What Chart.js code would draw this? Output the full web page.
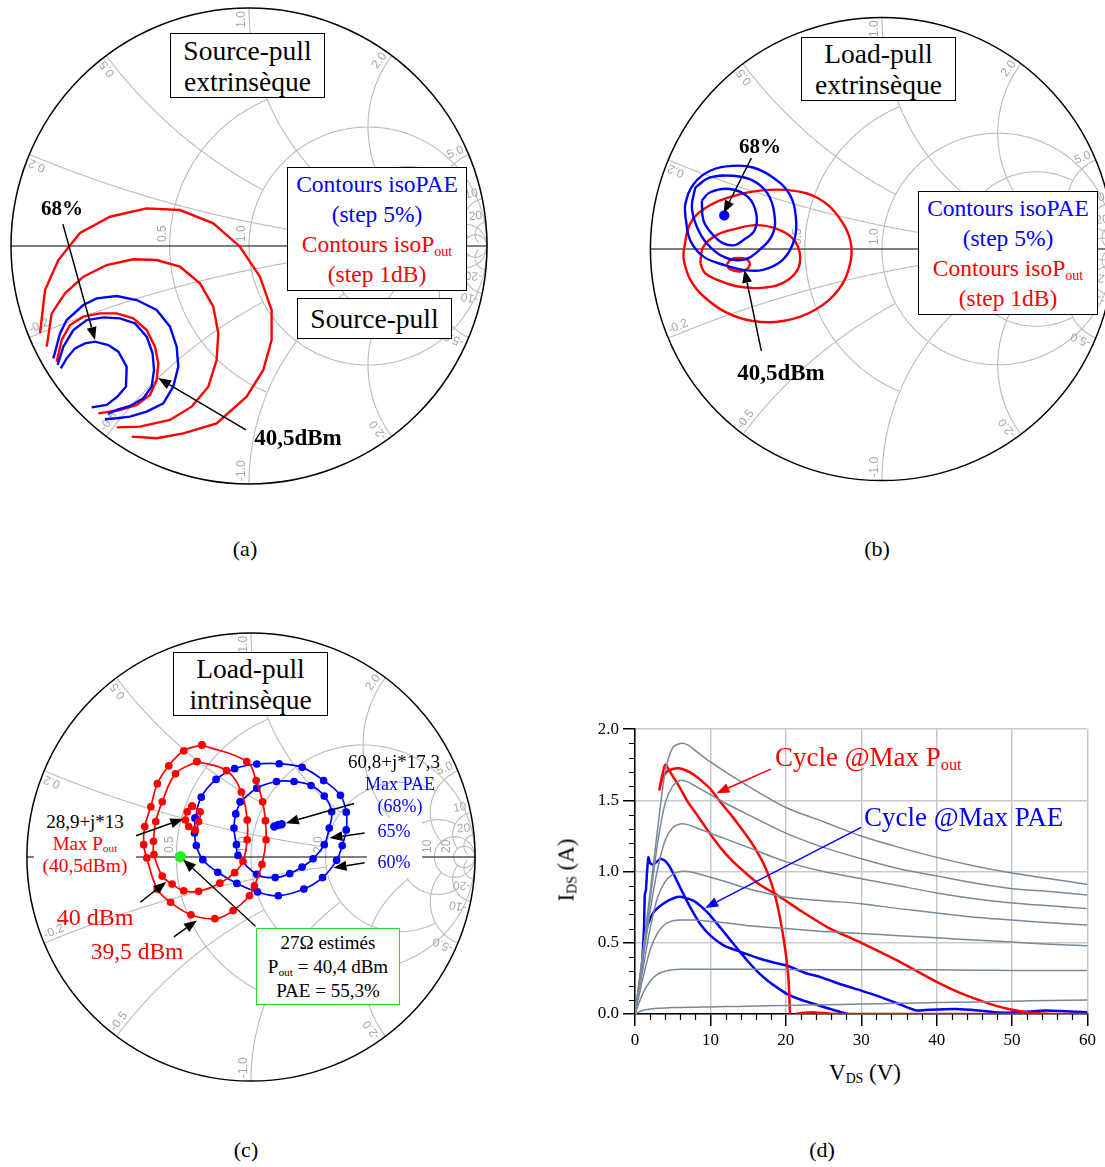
<!DOCTYPE html>
<html>
<head>
<meta charset="utf-8">
<title>Source-pull / Load-pull</title>
<script src="https://cdn.jsdelivr.net/npm/chart.js@4.4.1/dist/chart.umd.min.js"></script>
<style>
  body { margin: 0; width: 1105px; height: 1167px; position: relative; overflow: hidden; background: #fff;
         font-family: "Liberation Serif", "Times New Roman", serif; color: #000; }
  canvas { position: absolute; }
  .t { position: absolute; white-space: nowrap; line-height: 1; transform: translate(-50%, -50%); }
  .tl { position: absolute; white-space: nowrap; line-height: 1; transform: translateY(-50%); }
  .box { position: absolute; box-sizing: border-box; border: 1.5px solid #000; background: #fff; text-align: center;
         white-space: nowrap; display: flex; flex-direction: column; justify-content: center; }
  .blue { color: #0000ff; }
  .red { color: #ff0000; }
  .b { font-weight: bold; }
  sub { font-size: 0.6em; vertical-align: -0.25em; line-height: 0; }
  .patch { position: absolute; background: #fff; }
</style>
</head>
<body>
<canvas id="smithA" width="484" height="484" style="left:7px;top:4px"></canvas>
<canvas id="smithB" width="476" height="476" style="left:644px;top:11px"></canvas>
<canvas id="smithC" width="462" height="462" style="left:20px;top:626px"></canvas>
<canvas id="ivChart" width="520" height="331" style="left:580px;top:715px"></canvas>

<!-- (a) source-pull extrinseque -->
<div class="box" style="left:170px;top:33px;width:155px;height:65px;font-size:27.5px;line-height:31px">
  <div>Source-pull</div><div>extrinsèque</div>
</div>
<div class="box" style="left:287px;top:167px;width:180px;height:124px;font-size:23.5px;line-height:30px">
  <div class="blue">Contours isoPAE</div><div class="blue">(step 5%)</div>
  <div class="red">Contours isoP<sub>out</sub></div><div class="red">(step 1dB)</div>
</div>
<div class="box" style="left:297px;top:298px;width:155px;height:41px;font-size:27.5px">Source-pull</div>
<div class="t b" style="left:62px;top:208px;font-size:21px">68%</div>
<div class="t b" style="left:298px;top:437px;font-size:23px">40,5dBm</div>

<!-- (b) load-pull extrinseque -->
<div class="box" style="left:801px;top:37px;width:155px;height:64px;font-size:27.5px;line-height:31px">
  <div>Load-pull</div><div>extrinsèque</div>
</div>
<div class="box" style="left:918px;top:191px;width:180px;height:124px;font-size:23.5px;line-height:30px">
  <div class="blue">Contours isoPAE</div><div class="blue">(step 5%)</div>
  <div class="red">Contours isoP<sub>out</sub></div><div class="red">(step 1dB)</div>
</div>
<div class="t b" style="left:760px;top:146px;font-size:21px">68%</div>
<div class="t b" style="left:781px;top:372px;font-size:23px">40,5dBm</div>

<!-- (c) load-pull intrinseque -->
<div class="patch" style="left:34px;top:808px;width:102px;height:70px"></div>
<div class="patch" style="left:367px;top:818px;width:55px;height:60px"></div>
<div class="box" style="left:173px;top:652px;width:155px;height:64px;font-size:27.5px;line-height:31px">
  <div>Load-pull</div><div>intrinsèque</div>
</div>
<div class="t" style="left:394px;top:761px;font-size:19px">60,8+j*17,3</div>
<div class="t blue" style="left:400px;top:784px;font-size:18px">Max PAE</div>
<div class="t blue" style="left:400px;top:806px;font-size:18px">(68%)</div>
<div class="t blue" style="left:394px;top:831px;font-size:18px">65%</div>
<div class="t blue" style="left:394px;top:862px;font-size:18px">60%</div>
<div class="t" style="left:85px;top:821px;font-size:19px">28,9+j*13</div>
<div class="t red" style="left:85px;top:843px;font-size:19px">Max P<sub>out</sub></div>
<div class="t red" style="left:85px;top:866px;font-size:19.5px">(40,5dBm)</div>
<div class="t red" style="left:95px;top:917px;font-size:24px">40 dBm</div>
<div class="t red" style="left:137px;top:952px;font-size:23.5px">39,5 dBm</div>
<div class="box" style="left:256px;top:928px;width:144px;height:77px;border-color:#22dd22;font-size:19px;line-height:24px">
  <div>27Ω estimés</div><div>P<sub>out</sub> = 40,4 dBm</div><div>PAE = 55,3%</div>
</div>

<!-- (d) IV -->
<div class="tl red" style="left:775px;top:757px;font-size:27px">Cycle @Max P<sub>out</sub></div>
<div class="tl blue" style="left:864px;top:817px;font-size:27px">Cycle @Max PAE</div>
<div class="t" style="left:566px;top:870px;font-size:23px;transform:translate(-50%,-50%) rotate(-90deg)">I<sub>DS</sub> (A)</div>
<div class="t" style="left:865px;top:1072px;font-size:23px">V<sub>DS</sub> (V)</div>

<div class="t" style="left:245px;top:549px;font-size:22px">(a)</div>
<div class="t" style="left:877px;top:549px;font-size:22px">(b)</div>
<div class="t" style="left:246px;top:1150px;font-size:22px">(c)</div>
<div class="t" style="left:822px;top:1150px;font-size:22px">(d)</div>

<script>
// ---- (a) source-pull extrinseque, reflection coefficient [re, im]
const srcPout385 = [[-0.878,-0.366],[-0.857,-0.185],[-0.801,-0.059],[-0.710,0.055],[-0.584,0.123],[-0.430,0.158],[-0.290,0.151],[-0.150,0.095],[-0.038,-0.003],[0.046,-0.129],[0.095,-0.269],[0.095,-0.395],[0.060,-0.521],[-0.010,-0.633],[-0.136,-0.745],[-0.276,-0.787],[-0.388,-0.808],[-0.493,-0.801]];
const srcPout395 = [[-0.850,-0.423],[-0.829,-0.283],[-0.773,-0.199],[-0.696,-0.129],[-0.598,-0.080],[-0.486,-0.056],[-0.388,-0.059],[-0.290,-0.087],[-0.206,-0.157],[-0.150,-0.255],[-0.129,-0.367],[-0.136,-0.479],[-0.171,-0.591],[-0.241,-0.675],[-0.332,-0.731],[-0.458,-0.759],[-0.556,-0.762]];
const srcPout405 = [[-0.808,-0.486],[-0.787,-0.395],[-0.752,-0.332],[-0.696,-0.297],[-0.626,-0.283],[-0.556,-0.283],[-0.486,-0.304],[-0.430,-0.353],[-0.395,-0.423],[-0.381,-0.493],[-0.388,-0.563],[-0.416,-0.626],[-0.472,-0.668],[-0.542,-0.689],[-0.633,-0.703]];
const srcPae58 = [[-0.822,-0.472],[-0.794,-0.367],[-0.766,-0.311],[-0.696,-0.248],[-0.640,-0.220],[-0.556,-0.210],[-0.472,-0.227],[-0.388,-0.269],[-0.332,-0.339],[-0.304,-0.423],[-0.297,-0.507],[-0.318,-0.591],[-0.360,-0.661],[-0.430,-0.696],[-0.500,-0.717],[-0.556,-0.724],[-0.605,-0.728]];
const srcPae63 = [[-0.804,-0.500],[-0.780,-0.423],[-0.738,-0.353],[-0.682,-0.311],[-0.612,-0.300],[-0.542,-0.304],[-0.479,-0.325],[-0.430,-0.381],[-0.405,-0.451],[-0.399,-0.521],[-0.409,-0.591],[-0.444,-0.640],[-0.500,-0.672],[-0.556,-0.689],[-0.592,-0.706]];
const srcPae68 = [[-0.791,-0.514],[-0.766,-0.472],[-0.731,-0.430],[-0.689,-0.409],[-0.647,-0.402],[-0.591,-0.416],[-0.549,-0.444],[-0.514,-0.507],[-0.517,-0.591],[-0.553,-0.633],[-0.598,-0.668],[-0.661,-0.678]];

// ---- (b) load-pull extrinseque
const loadPout385 = [[-0.856,-0.004],[-0.828,0.110],[-0.756,0.181],[-0.657,0.224],[-0.529,0.252],[-0.386,0.252],[-0.272,0.217],[-0.187,0.138],[-0.137,0.038],[-0.137,-0.061],[-0.187,-0.175],[-0.286,-0.261],[-0.429,-0.311],[-0.557,-0.311],[-0.671,-0.275],[-0.771,-0.204],[-0.828,-0.132],[-0.856,-0.047]];
const loadPout395 = [[-0.785,-0.061],[-0.771,0.010],[-0.714,0.060],[-0.628,0.088],[-0.543,0.103],[-0.457,0.088],[-0.386,0.046],[-0.355,-0.018],[-0.365,-0.090],[-0.429,-0.147],[-0.529,-0.168],[-0.628,-0.161],[-0.714,-0.132],[-0.764,-0.104]];
const loadPout405 = [[-0.671,-0.068],[-0.650,-0.044],[-0.600,-0.040],[-0.574,-0.054],[-0.578,-0.082],[-0.614,-0.097],[-0.657,-0.087]];
const loadPae58 = [[-0.849,0.138],[-0.828,0.038],[-0.771,-0.033],[-0.685,-0.068],[-0.600,-0.090],[-0.514,-0.090],[-0.429,-0.047],[-0.379,0.038],[-0.372,0.138],[-0.400,0.238],[-0.471,0.309],[-0.557,0.352],[-0.642,0.359],[-0.742,0.338],[-0.813,0.281],[-0.849,0.195]];
const loadPae63 = [[-0.806,0.266],[-0.742,0.309],[-0.642,0.316],[-0.557,0.295],[-0.493,0.238],[-0.465,0.153],[-0.471,0.067],[-0.529,-0.004],[-0.600,-0.047],[-0.685,-0.033],[-0.756,0.024],[-0.799,0.095],[-0.821,0.181]];
const loadPae68 = [[-0.778,0.209],[-0.742,0.245],[-0.657,0.259],[-0.578,0.224],[-0.543,0.153],[-0.550,0.081],[-0.600,0.038],[-0.635,0.017],[-0.685,0.024],[-0.735,0.067],[-0.771,0.124]];
const loadPaeMax = [[-0.681,0.145]];

// ---- (c) load-pull intrinseque
const intPout395 = [[-0.219,0.500],[-0.019,0.426],[0.023,0.341],[0.052,0.246],[0.064,0.162],[0.067,0.077],[0.049,-0.033],[0.015,-0.129],[-0.007,-0.173],[-0.080,-0.239],[-0.161,-0.275],[-0.268,-0.258],[-0.359,-0.202],[-0.418,-0.143],[-0.465,-0.004],[-0.479,0.055],[-0.474,0.136],[-0.447,0.224],[-0.418,0.327],[-0.367,0.407],[-0.300,0.474]];
const intPout40 = [[-0.241,0.426],[-0.109,0.385],[-0.043,0.290],[-0.017,0.165],[-0.017,0.077],[-0.036,-0.019],[-0.073,-0.070],[-0.139,-0.117],[-0.234,-0.153],[-0.300,-0.151],[-0.352,-0.121],[-0.396,-0.085],[-0.433,0.011],[-0.435,0.070],[-0.425,0.158],[-0.396,0.246],[-0.337,0.371]];
const intPoutMax = [[-0.263,0.227],[-0.227,0.202],[-0.234,0.158],[-0.249,0.121],[-0.278,0.136],[-0.293,0.165],[-0.285,0.202]];
const intPae60 = [[-0.249,0.174],[-0.222,0.267],[-0.156,0.346],[-0.073,0.394],[0.026,0.415],[0.126,0.416],[0.228,0.400],[0.324,0.341],[0.399,0.275],[0.425,0.200],[0.425,0.121],[0.407,0.051],[0.382,-0.015],[0.319,-0.092],[0.236,-0.143],[0.122,-0.173],[0.029,-0.156],[-0.063,-0.118],[-0.148,-0.068],[-0.215,-0.012],[-0.244,0.051],[-0.252,0.107]];
const intPae65 = [[-0.048,0.246],[0.026,0.307],[0.114,0.337],[0.192,0.337],[0.268,0.319],[0.327,0.272],[0.360,0.202],[0.349,0.129],[0.327,0.055],[0.277,-0.008],[0.228,-0.045],[0.173,-0.074],[0.108,-0.092],[0.026,-0.077],[-0.058,0.007],[-0.065,0.055],[-0.076,0.129],[-0.068,0.192]];
const intPaeMax = [[0.104,0.136],[0.122,0.143],[0.137,0.146]];
const intEstimate = [[-0.315,0.001]];

// ---- (d) IV network and load cycles
const vdsSweep = [0, 1, 2, 3, 4, 5, 6, 7, 8, 10, 12, 15, 20, 25, 30, 35, 40, 45, 50, 55, 60];
const idsCurve1 = [0, 0.42, 0.85, 1.30, 1.70, 1.87, 1.90, 1.89, 1.85, 1.77, 1.70, 1.60, 1.45, 1.35, 1.25, 1.17, 1.10, 1.04, 0.99, 0.95, 0.91];
const idsCurve2 = [0, 0.40, 0.80, 1.20, 1.48, 1.60, 1.64, 1.63, 1.60, 1.54, 1.48, 1.40, 1.27, 1.17, 1.09, 1.02, 0.97, 0.92, 0.88, 0.86, 0.835];
const idsCurve3 = [0, 0.36, 0.72, 1.02, 1.22, 1.31, 1.335, 1.33, 1.31, 1.27, 1.23, 1.17, 1.07, 1.00, 0.95, 0.90, 0.85, 0.81, 0.78, 0.76, 0.74];
const idsCurve4 = [0, 0.30, 0.60, 0.82, 0.93, 0.98, 1.00, 1.00, 0.99, 0.96, 0.93, 0.88, 0.82, 0.795, 0.775, 0.74, 0.71, 0.68, 0.66, 0.64, 0.625];
const idsCurve5 = [0, 0.24, 0.45, 0.57, 0.63, 0.655, 0.66, 0.66, 0.66, 0.65, 0.64, 0.62, 0.60, 0.58, 0.565, 0.55, 0.535, 0.52, 0.505, 0.49, 0.48];
const idsCurve6 = [0, 0.14, 0.23, 0.28, 0.30, 0.31, 0.315, 0.315, 0.315, 0.315, 0.315, 0.315, 0.312, 0.31, 0.31, 0.31, 0.31, 0.308, 0.306, 0.305, 0.305];
const idsCurve7 = [0, 0.025, 0.035, 0.04, 0.043, 0.045, 0.046, 0.047, 0.048, 0.05, 0.052, 0.055, 0.06, 0.065, 0.07, 0.075, 0.08, 0.085, 0.09, 0.095, 0.098];
const poutCycleV = [60, 57, 54, 52, 50, 48, 46, 43, 40, 35, 30, 25.6, 22, 20, 18.4, 16.5, 14.9, 13, 11.3, 9.5, 8.2, 7, 6, 5, 4.0, 3.24, 3.6, 4.2, 5.0, 5.8, 6.8, 7.8, 9, 10, 11.3, 12.7, 14, 15.3, 16.3, 17.1, 17.8, 18.4, 18.9, 19.3, 19.7, 20.0, 20.3, 20.45, 20.55, 20.9, 21.2, 22.5, 23.5, 24.5, 26, 30, 40, 50, 60];
const poutCycleI = [0, 0, 0.004, 0.012, 0.03, 0.055, 0.09, 0.15, 0.225, 0.37, 0.50, 0.607, 0.724, 0.795, 0.85, 0.91, 0.98, 1.07, 1.17, 1.30, 1.40, 1.49, 1.585, 1.67, 1.75, 1.577, 1.65, 1.70, 1.72, 1.725, 1.71, 1.68, 1.63, 1.58, 1.49, 1.40, 1.31, 1.215, 1.13, 1.05, 0.96, 0.865, 0.76, 0.654, 0.53, 0.42, 0.28, 0.15, 0, null, 0, 0.008, 0.012, 0.008, 0.002, 0, 0, 0, 0];
const paeCycleV = [60, 57, 54.5, 51, 48.3, 45.5, 42.5, 39, 37.3, 35, 32.5, 30, 27.5, 24.7, 22.5, 20.2, 18.5, 16.7, 13.8, 11.8, 10, 8.67, 7.33, 6.44, 5.56, 4.67, 4.0, 3.4, 2.9, 2.4, 2.0, 1.78, 1.6, 1.45, 1.3, 1.2, 1.05, 0.9, 1.1, 1.56, 2.44, 3.78, 5.1, 6.2, 7.8, 9.6, 11.3, 13.1, 14.9, 16.2, 17.6, 19, 20.2, 22, 23.8, 26, 28.2];
const paeCycleI = [0.013, 0.02, 0.025, 0.012, 0.01, 0.025, 0.035, 0.03, 0.025, 0.07, 0.12, 0.164, 0.205, 0.257, 0.29, 0.339, 0.36, 0.386, 0.44, 0.48, 0.55, 0.63, 0.748, 0.84, 0.935, 1.028, 1.075, 1.09, 1.07, 1.05, 1.06, 1.10, 1.0, 0.87, 0.84, 0.607, 0.45, 0.32, 0.467, 0.607, 0.713, 0.776, 0.813, 0.822, 0.794, 0.713, 0.607, 0.49, 0.374, 0.30, 0.234, 0.18, 0.14, 0.10, 0.07, 0.033, 0];

Chart.defaults.font.family = '"Liberation Serif", serif';

// z = r + jx  ->  reflection coefficient
function gam(r, x) {
  const d = (r + 1) * (r + 1) + x * x;
  return [(r * r - 1 + x * x) / d, 2 * x / d];
}
function fmt(v) {
  return Math.abs(v) >= 10 ? String(v) : v.toFixed(1);
}

// grid lines: resistance circles [r, xFrom, xTo], reactance arcs [x, rTo]
const rCircles = [[0.5, -1, 1], [1, -Infinity, Infinity], [2, -5, 5], [5, -10, 10], [10, -Infinity, Infinity], [20, -Infinity, Infinity]];
const xArcs = [[0.2, 2], [0.5, 1], [1, 2], [2, 5], [5, 10], [10, 20], [20, 50]];
const gridLabels = [0.2, 0.5, 1, 2, 5, 10, 20];

const smithGrid = {
  id: 'smithGrid',
  beforeDatasetsDraw(chart) {
    const { ctx, scales: { x, y } } = chart;
    const px = g => [x.getPixelForValue(g[0]), y.getPixelForValue(g[1])];
    const cx = x.getPixelForValue(0), cy = y.getPixelForValue(0);
    const R = x.getPixelForValue(1) - cx;
    ctx.save();
    ctx.strokeStyle = '#bbbbbb';
    ctx.lineWidth = 1.1;
    const trace = (fn, a, b) => {
      const t0 = Math.atan(a), t1 = Math.atan(b);
      ctx.beginPath();
      for (let i = 0; i <= 240; i++) {
        const p = px(fn(Math.tan(t0 + (t1 - t0) * i / 240)));
        if (i) ctx.lineTo(p[0], p[1]); else ctx.moveTo(p[0], p[1]);
      }
      ctx.stroke();
    };
    rCircles.forEach(([r, a, b]) => trace(v => gam(r, v), a, b));
    xArcs.forEach(([xv, rb]) => {
      trace(v => gam(v, xv), 0, rb);
      trace(v => gam(v, -xv), 0, rb);
    });

    ctx.fillStyle = '#a6a6a6';
    ctx.font = '12px "Liberation Sans"';
    ctx.textBaseline = 'bottom';
    gridLabels.forEach(v => {
      [v, -v].forEach(xv => {
        const g = gam(0, xv);
        const th = Math.atan2(g[1], g[0]);
        ctx.save();
        ctx.translate(cx + (R - 3) * Math.cos(th), cy - (R - 3) * Math.sin(th));
        if (xv > 0) { ctx.rotate(-th); ctx.textAlign = 'right'; }
        else { ctx.rotate(-(th + Math.PI)); ctx.textAlign = 'left'; }
        ctx.fillText(fmt(xv), 0, -1);
        ctx.restore();
      });
      if (v >= 0.5) {
        const p = px([(v - 1) / (v + 1), 0]);
        ctx.save();
        ctx.translate(p[0] - 1, p[1] - 4);
        ctx.rotate(-Math.PI / 2);
        ctx.textAlign = 'left';
        ctx.fillText(fmt(v), 0, 0);
        ctx.restore();
      }
    });

    ctx.strokeStyle = '#000';
    ctx.lineWidth = 1.5;
    ctx.beginPath();
    ctx.arc(cx, cy, R, 0, 2 * Math.PI);
    ctx.stroke();
    ctx.lineWidth = 1.2;
    ctx.beginPath();
    ctx.moveTo(cx - R, cy);
    ctx.lineTo(cx + R, cy);
    ctx.stroke();
    ctx.restore();
  }
};

function arrowPlugin(list) {
  return {
    id: 'arrows',
    afterDatasetsDraw(chart) {
      const { ctx, scales: { x, y } } = chart;
      list.forEach(a => {
        const x0 = x.getPixelForValue(a.from[0]), y0 = y.getPixelForValue(a.from[1]);
        const x1 = x.getPixelForValue(a.to[0]), y1 = y.getPixelForValue(a.to[1]);
        const ang = Math.atan2(y1 - y0, x1 - x0);
        const c = Math.cos(ang), s = Math.sin(ang);
        const hl = 13, hw = 5;
        ctx.save();
        ctx.strokeStyle = a.color;
        ctx.fillStyle = a.color;
        ctx.lineWidth = a.width || 1.5;
        ctx.beginPath();
        ctx.moveTo(x0, y0);
        ctx.lineTo(x1 - hl * c, y1 - hl * s);
        ctx.stroke();
        ctx.beginPath();
        ctx.moveTo(x1, y1);
        ctx.lineTo(x1 - hl * c + hw * s, y1 - hl * s - hw * c);
        ctx.lineTo(x1 - hl * c - hw * s, y1 - hl * s + hw * c);
        ctx.closePath();
        ctx.fill();
        ctx.restore();
      });
    }
  };
}

function loop(pts) {
  return pts.concat([pts[0]]);
}
function contour(pts, color, opts) {
  return Object.assign({
    data: pts.map(p => ({ x: p[0], y: p[1] })),
    showLine: true, borderColor: color, backgroundColor: color,
    borderWidth: 2.4, pointRadius: 0, tension: 0
  }, opts || {});
}

function smithChart(id, datasets, arrows) {
  return new Chart(document.getElementById(id), {
    type: 'scatter',
    data: { datasets: datasets },
    options: {
      responsive: false,
      animation: false,
      events: [],
      layout: { padding: 4 },
      plugins: { legend: { display: false }, tooltip: { enabled: false } },
      scales: {
        x: { type: 'linear', min: -1, max: 1, display: false },
        y: { type: 'linear', min: -1, max: 1, display: false }
      }
    },
    plugins: [smithGrid, arrowPlugin(arrows)]
  });
}

const RED = '#ff0000', BLUE = '#0000ff';

smithChart('smithA', [
  contour(srcPae58, BLUE), contour(srcPae63, BLUE), contour(srcPae68, BLUE),
  contour(srcPout385, RED), contour(srcPout395, RED), contour(srcPout405, RED)
], [
  { from: [-0.782, 0.092], to: [-0.647, -0.395], color: '#000' },
  { from: [-0.013, -0.773], to: [-0.382, -0.555], color: '#000' }
]);

const smooth = { tension: 0.4 };
smithChart('smithB', [
  contour(loop(loadPae58), BLUE, smooth), contour(loop(loadPae63), BLUE, smooth), contour(loop(loadPae68), BLUE, smooth),
  contour(loadPaeMax, BLUE, { showLine: false, pointRadius: 4 }),
  contour(loop(loadPout385), RED, smooth), contour(loop(loadPout395), RED, smooth), contour(loop(loadPout405), RED, smooth)
], [
  { from: [-0.564, 0.393], to: [-0.684, 0.154], color: '#000' },
  { from: [-0.521, -0.440], to: [-0.594, -0.090], color: '#000' }
]);

const dotted = { tension: 0.4, borderWidth: 1.7, pointRadius: 3 };
smithChart('smithC', [
  contour(loop(intPout395), RED, dotted), contour(loop(intPout40), RED, dotted), contour(loop(intPoutMax), RED, dotted),
  contour(loop(intPae60), BLUE, dotted), contour(loop(intPae65), BLUE, dotted),
  contour(intPaeMax, BLUE, { showLine: false, pointRadius: 3 }),
  contour(intEstimate, '#22ee22', { showLine: false, pointRadius: 4.5 })
], [
  { from: [-0.513, 0.095], to: [-0.302, 0.170], color: '#000' },
  { from: [0.460, 0.239], to: [0.155, 0.151], color: '#000' },
  { from: [0.507, 0.107], to: [0.350, 0.085], color: '#000' },
  { from: [0.507, -0.026], to: [0.368, -0.048], color: '#000' },
  { from: [-0.494, -0.202], to: [-0.378, -0.111], color: '#000' },
  { from: [-0.344, -0.356], to: [-0.241, -0.283], color: '#000' },
  { from: [0.020, -0.309], to: [-0.303, -0.011], color: '#000', width: 1.2 }
]);

// ---- IV chart
function xy(vs, is) {
  return vs.map((v, i) => ({ x: v, y: is[i] }));
}
const grayCurves = [idsCurve1, idsCurve2, idsCurve3, idsCurve4, idsCurve5, idsCurve6, idsCurve7].map(c => ({
  data: xy(vdsSweep, c), showLine: true, borderColor: '#7b8898', borderWidth: 1.5, pointRadius: 0, tension: 0.25
}));

const minorTicks = {
  id: 'minorTicks',
  afterDraw(chart) {
    const { ctx, chartArea, scales: { x, y } } = chart;
    ctx.save();
    ctx.strokeStyle = '#000';
    ctx.lineWidth = 1.2;
    ctx.beginPath();
    for (let v = 2; v < 60; v += 2) {
      if (v % 10 === 0) continue;
      const p = Math.round(x.getPixelForValue(v)) + 0.5;
      ctx.moveTo(p, chartArea.bottom);
      ctx.lineTo(p, chartArea.bottom + 6);
    }
    for (let k = 1; k < 20; k++) {
      if (k % 5 === 0) continue;
      const p = Math.round(y.getPixelForValue(k / 10)) + 0.5;
      ctx.moveTo(chartArea.left, p);
      ctx.lineTo(chartArea.left - 6, p);
    }
    ctx.stroke();
    ctx.restore();
  }
};

new Chart(document.getElementById('ivChart'), {
  type: 'scatter',
  data: {
    datasets: grayCurves.concat([
      { data: xy(poutCycleV, poutCycleI), showLine: true, borderColor: RED, borderWidth: 2.5, pointRadius: 0, tension: 0.2 },
      { data: xy(paeCycleV, paeCycleI), showLine: true, borderColor: BLUE, borderWidth: 2.5, pointRadius: 0, tension: 0.2 }
    ])
  },
  options: {
    responsive: false,
    animation: false,
    events: [],
    layout: { padding: { top: 12, right: 11, left: 0, bottom: 0 } },
    plugins: { legend: { display: false }, tooltip: { enabled: false } },
    scales: {
      x: {
        type: 'linear', min: 0, max: 60,
        afterFit: s => { s.height = 32; },
        ticks: { stepSize: 10, color: '#000', font: { size: 17 }, padding: 4, maxRotation: 0 },
        grid: { color: '#c9c9c9', lineWidth: 1.5, tickLength: 12, tickColor: '#000' },
        border: { color: '#000', width: 1.5 }
      },
      y: {
        type: 'linear', min: 0, max: 2,
        afterFit: s => { s.width = 55; },
        ticks: { stepSize: 0.5, color: '#000', font: { size: 17 }, padding: 4, callback: v => v.toFixed(1) },
        grid: { color: '#c9c9c9', lineWidth: 1.5, tickLength: 12, tickColor: '#000' },
        border: { color: '#000', width: 1.5 }
      }
    }
  },
  plugins: [minorTicks, arrowPlugin([
    { from: [18.0, 1.72], to: [10.8, 1.55], color: RED },
    { from: [30.0, 1.31], to: [9.3, 0.745], color: BLUE }
  ])]
});
</script>
</body>
</html>
